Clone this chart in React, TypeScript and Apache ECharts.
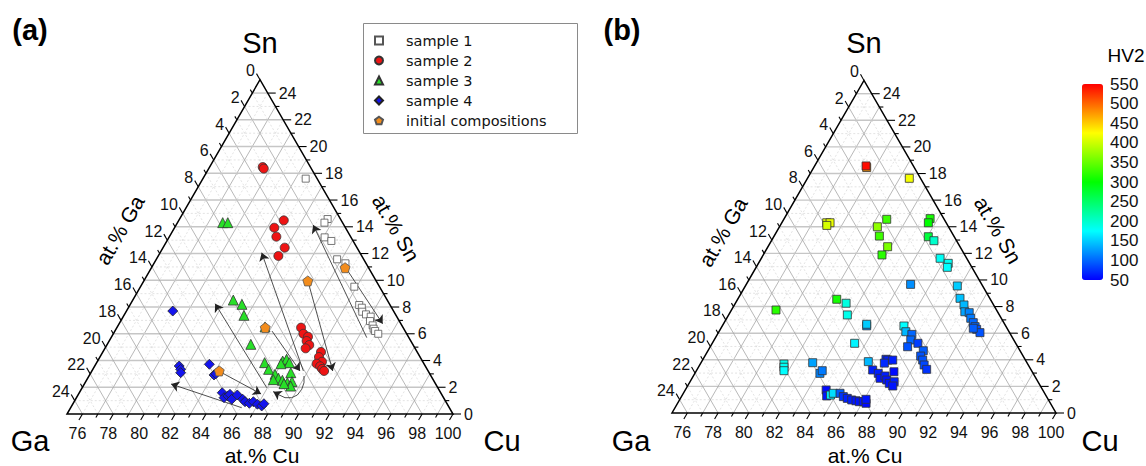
import React, { useEffect, useRef } from 'react';
import * as echarts from 'echarts';

// ---------- Panel (a): compositions [at.% Cu, at.% Sn]  (at.% Ga = 100 - Cu - Sn) ----------
const sample1: number[][] = [
  [81.66, 17.6], [84.59, 14.58], [84.52, 14.31], [85.08, 13.21], [85.65, 12.94], [86.71, 11.57],
  [87.4, 11.27], [88.85, 9.52], [89.85, 8.15], [90.12, 7.95], [90.3, 7.65], [90.64, 7.45],
  [91.03, 7.28], [91.15, 6.95], [91.48, 6.63], [91.67, 6.38], [91.85, 6.21], [92.16, 6.0],
];
const sample2: number[][] = [
  [78.44, 18.47], [78.57, 18.35], [81.8, 14.48], [81.46, 13.93], [81.93, 13.26], [82.88, 12.44],
  [82.78, 11.82], [86.93, 6.46], [87.31, 6.0], [87.72, 5.78], [87.79, 5.46], [88.11, 5.16],
  [88.0, 4.91], [89.13, 4.64], [89.19, 4.26], [89.56, 3.91], [89.29, 3.76], [89.61, 3.57],
  [89.84, 3.37], [90.04, 3.22],
];
const sample3: number[][] = [
  [77.93, 14.31], [78.26, 14.31], [81.51, 8.52], [82.23, 8.2], [82.77, 7.38], [84.57, 6.51],
  [84.3, 5.21], [85.88, 3.84], [86.99, 3.96], [87.18, 4.09], [87.48, 3.84], [86.98, 3.76],
  [86.39, 3.34], [87.95, 3.09], [86.99, 2.97], [87.36, 2.67], [87.69, 2.52], [87.08, 2.57],
  [88.1, 2.34], [88.36, 2.42], [88.44, 2.09], [87.92, 2.27],
];
const sample4: number[][] = [
  [78.0, 7.7], [80.47, 3.59], [80.69, 3.34], [80.82, 3.09], [82.36, 3.72], [83.06, 2.92],
  [83.14, 3.01], [84.26, 1.59], [84.56, 1.22], [84.74, 1.35], [84.82, 1.47], [85.12, 1.1],
  [85.32, 1.42], [85.83, 1.1], [86.07, 0.92], [86.41, 0.8], [86.61, 0.92], [86.97, 0.73],
  [87.31, 0.6], [87.37, 0.77],
];
const initialCompositions: number[][] = [[87.54, 10.94], [85.62, 9.95], [84.61, 6.46], [83.25, 3.22]];

// arrows (composition paths, arrow head at the last point)
const arrowPaths: number[][][] = [
  [[91.56, 5.71], [83.88, 14.13]],
  [[87.71, 10.82], [92.07, 6.75]],
  [[88.7, 3.22], [81.58, 12.06]],
  [[85.7, 9.85], [90.6, 3.22]],
  [[85.18, 6.2], [88.48, 3.22]],
  [[88.93, 2.84], [89.18, 2.34], [89.28, 1.85], [89.21, 1.42], [88.94, 1.22], [88.51, 1.22], [88.04, 1.42], [87.53, 1.67]],
  [[86.95, 1.97], [80.47, 8.25]],
  [[83.35, 3.15], [86.82, 1.5]],
  [[86.08, 0.47], [80.62, 2.24]],
];

// ---------- Panel (b): [at.% Cu, at.% Sn, HV2] ----------
const hvPoints: number[][] = [
  [78.45, 18.45, 480], [78.35, 18.57, 545], [81.63, 17.64, 420],
  [77.92, 14.3, 410], [78.14, 14.3, 415], [78.03, 14.1, 405],
  [81.7, 14.56, 330], [81.37, 14.0, 370], [81.85, 13.3, 330], [82.79, 12.5, 360], [82.73, 11.88, 320],
  [84.5, 14.61, 310], [84.54, 14.3, 300], [85.06, 13.25, 270], [85.58, 12.95, 200], [86.64, 11.63, 180],
  [87.36, 11.25, 180], [87.45, 10.95, 175], [85.7, 9.67, 120], [88.8, 9.55, 150], [89.44, 8.62, 145],
  [89.95, 8.12, 140], [90.26, 7.61, 130], [90.58, 7.54, 115], [90.89, 7.12, 110], [91.22, 6.79, 100],
  [91.49, 6.49, 100], [91.69, 6.29, 90], [92.03, 6.04, 90], [91.43, 6.37, 95],
  [77.9, 7.74, 320], [81.45, 8.55, 310], [82.21, 8.25, 190], [82.73, 7.37, 185],
  [84.4, 6.55, 120], [84.34, 6.67, 150], [84.27, 5.24, 170],
  [86.83, 6.54, 175], [87.17, 6.11, 140], [87.66, 5.91, 100], [87.8, 5.49, 100], [88.39, 5.24, 80],
  [87.85, 4.98, 90], [89.02, 4.68, 95], [89.05, 4.28, 90], [89.33, 3.98, 90], [89.61, 3.61, 85],
  [89.94, 3.28, 75],
  [86.91, 4.04, 70], [87.06, 3.98, 65], [86.95, 3.75, 70], [87.38, 3.98, 65], [85.85, 3.86, 140],
  [86.45, 3.23, 65], [86.94, 2.98, 65], [87.24, 2.61, 60], [87.48, 2.78, 65], [87.74, 2.48, 60],
  [88.03, 2.23, 60], [88.29, 2.35, 65], [87.9, 3.1, 55], [88.36, 2.03, 60],
  [80.45, 3.68, 185], [80.57, 3.44, 180], [80.7, 3.18, 175],
  [82.27, 3.78, 130], [83.14, 2.98, 115], [83.19, 3.18, 110],
  [84.17, 1.73, 55], [84.43, 1.28, 60], [84.65, 1.35, 170], [84.76, 1.48, 160], [85.2, 1.48, 95],
  [85.54, 1.23, 75], [85.86, 1.1, 65], [86.21, 0.98, 65], [86.52, 0.92, 60], [86.77, 0.85, 60],
  [87.03, 0.85, 60], [87.27, 0.73, 55], [87.12, 1.03, 60],
];

// ---------- axis ticks ----------
const cuTickLabels = [76, 78, 80, 82, 84, 86, 88, 90, 92, 94, 96, 98, 100];
const gaTickLabels = [0, 2, 4, 6, 8, 10, 12, 14, 16, 18, 20, 22, 24];
const snTickLabels = [0, 2, 4, 6, 8, 10, 12, 14, 16, 18, 20, 22, 24];
const hvMin = 50;
const hvMax = 550;
const hvStep = 50;
const hvColors = ['#0000ff', '#00ffff', '#00ff00', '#ffff00', '#ff0000'];

const FONT = '"Liberation Sans", Arial, sans-serif';
const toXY = (p: number[]) => [p[0] + p[1] / 2, p[1]];

const pentagon = 'path://M0,-1 L0.951,-0.309 L0.588,0.809 L-0.588,0.809 L-0.951,-0.309 Z';

function frameRenderer(_params: any, api: any) {
  const P = (cu: number, sn: number) => api.coord([cu + sn / 2, sn]);
  const children: any[] = [];
  const seg = (a: number[], b: number[], style: any) =>
    children.push({ type: 'line', shape: { x1: a[0], y1: a[1], x2: b[0], y2: b[1] }, style });
  const majorDiag = { stroke: '#a6a6a6', lineWidth: 0.8 };
  const majorHor = { stroke: '#c6c6c6', lineWidth: 1.4 };
  const minor = { stroke: '#dcdcdc', lineWidth: 0.8, lineDash: [2, 2] };
  for (let v = 1; v < 25; v++) {
    const major = v % 2 === 0;
    seg(P(75, v), P(100 - v, v), major ? majorHor : minor);
    seg(P(75 + v, 0), P(75 + v, 25 - v), major ? majorDiag : minor);
    seg(P(100 - v, 0), P(75, 25 - v), major ? majorDiag : minor);
  }
  children.push({
    type: 'polygon',
    shape: { points: [P(75, 0), P(100, 0), P(75, 25)] },
    style: { fill: 'none', stroke: '#000', lineWidth: 1.5 },
  });
  const unit = (a: number[], b: number[]) => {
    const dx = b[0] - a[0];
    const dy = b[1] - a[1];
    const l = Math.hypot(dx, dy);
    return [dx / l, dy / l];
  };
  const tickStyle = { stroke: '#000', lineWidth: 1.1 };
  const txt = (x: number, y: number, text: string, align: string) =>
    children.push({
      type: 'text',
      x,
      y,
      style: {
        text,
        font: `16px ${FONT}`,
        fill: '#111',
        textAlign: align,
        textVerticalAlign: 'middle',
        align,
        verticalAlign: 'middle',
      },
    });
  // Cu ticks (bottom edge)
  const dCu = unit(P(80, 1), P(80, 0));
  for (let c = 76; c <= 100; c++) {
    const b = P(c, 0);
    const major = cuTickLabels.indexOf(c) >= 0;
    const len = major ? 7 : 4;
    seg(b, [b[0] + dCu[0] * len, b[1] + dCu[1] * len], tickStyle);
    if (major) txt(b[0] - 5, b[1] + 19, String(c), 'center');
  }
  // Ga ticks (left edge)
  const dGa = unit(P(85, 0), P(75, 10));
  for (let g = 0; g <= 24; g++) {
    const b = P(75, 25 - g);
    const major = gaTickLabels.indexOf(g) >= 0;
    const len = major ? 7 : 4;
    seg(b, [b[0] + dGa[0] * len, b[1] + dGa[1] * len], tickStyle);
    if (major) txt(b[0] - 5, b[1] - 9, String(g), 'right');
  }
  // Sn ticks (right edge)
  for (let s = 0; s <= 24; s++) {
    const b = P(100 - s, s);
    const major = snTickLabels.indexOf(s) >= 0;
    const len = major ? 8 : 4;
    seg(b, [b[0] + len, b[1]], tickStyle);
    if (major) txt(b[0] + 11, b[1], String(s), 'left');
  }
  return { type: 'group', children };
}

function label(x: number, y: number, text: string, size: number, opts: any = {}) {
  return {
    type: 'text',
    x,
    y,
    rotation: opts.rotation || 0,
    z: 20,
    style: {
      text,
      font: `${opts.bold ? 'bold ' : ''}${size}px ${FONT}`,
      fill: '#000',
      textAlign: 'center',
      textVerticalAlign: 'middle',
      align: 'center',
      verticalAlign: 'middle',
    },
  };
}

export default function App() {
  const ref = useRef<HTMLDivElement>(null);
  useEffect(() => {
    if (!ref.current) return;
    const chart = echarts.init(ref.current, undefined, { renderer: 'svg' });
    const axisX = (gridIndex: number) => ({ gridIndex, type: 'value', min: 75, max: 100, show: false });
    const axisY = (gridIndex: number) => ({ gridIndex, type: 'value', min: 0, max: 25, show: false });
    const frame = (idx: number) => ({
      type: 'custom',
      xAxisIndex: idx,
      yAxisIndex: idx,
      data: [[75, 0]],
      encode: { x: 0, y: 1 },
      renderItem: frameRenderer,
      silent: true,
      clip: false,
      z: 1,
    });
    const scat = (name: string, data: number[][], symbol: string, size: number, color: string, border: string) => ({
      type: 'scatter',
      name,
      xAxisIndex: 0,
      yAxisIndex: 0,
      data: data.map(toXY),
      symbol,
      symbolSize: size,
      itemStyle: { color, borderColor: border, borderWidth: 0.8, opacity: 1 },
      z: 5,
      silent: true,
    });
    const arrowLine = { color: '#222', width: 0.8, opacity: 1 };
    const curved = arrowPaths.filter((p) => p.length > 2);
    const heads = arrowPaths.map((p) => p.slice(p.length - 2));
    chart.setOption({
      animation: false,
      backgroundColor: '#fff',
      grid: [
        { left: 67, top: 79.7, width: 386, height: 334.3 },
        { left: 672, top: 80.4, width: 384, height: 332.6 },
        { left: 1082, top: 84, width: 21, height: 196 },
      ],
      xAxis: [axisX(0), axisX(1), { gridIndex: 2, type: 'value', show: false, min: 0, max: 1 }],
      yAxis: [
        axisY(0),
        axisY(1),
        {
          gridIndex: 2,
          type: 'value',
          min: hvMin,
          max: hvMax,
          interval: hvStep,
          position: 'right',
          axisLine: { show: false },
          axisTick: { show: false },
          splitLine: { show: false },
          axisLabel: { fontSize: 17, fontFamily: FONT, color: '#111', margin: 7 },
        },
      ],
      legend: {
        data: ['sample 1', 'sample 2', 'sample 3', 'sample 4', 'initial compositions'],
        orient: 'vertical',
        left: 363,
        top: 23,
        padding: [10, 10, 6, 11],
        itemWidth: 8,
        itemHeight: 8,
        itemGap: 5,
        selectedMode: false,
        textStyle: { fontSize: 14.5, fontFamily: '"DejaVu Sans", sans-serif', color: '#111', padding: [0, 0, 0, 18] },
        z: 30,
      },
      visualMap: {
        type: 'continuous',
        min: hvMin,
        max: hvMax,
        dimension: 2,
        seriesIndex: 9,
        left: 1082,
        top: 84,
        padding: 0,
        itemWidth: 21,
        itemHeight: 196,
        calculable: false,
        hoverLink: false,
        inRange: { color: hvColors },
      },
      graphic: [
        {
          type: 'rect',
          shape: { x: 363.5, y: 23.5, width: 214, height: 110 },
          style: { fill: '#fff', stroke: '#8a8a8a', lineWidth: 1 },
          z: 2,
        },
        label(30, 30, '(a)', 29, { bold: true }),
        label(622, 30, '(b)', 29, { bold: true }),
        label(260, 43, 'Sn', 29),
        label(30, 441, 'Ga', 29),
        label(502, 441, 'Cu', 29),
        label(864, 43, 'Sn', 29),
        label(631, 441, 'Ga', 29),
        label(1100, 441, 'Cu', 29),
        label(262, 455, 'at.% Cu', 21),
        label(865, 455, 'at.% Cu', 21),
        label(120, 230, 'at.% Ga', 21, { rotation: Math.PI / 3 }),
        label(723, 232, 'at.% Ga', 21, { rotation: Math.PI / 3 }),
        label(396, 228, 'at.% Sn', 21, { rotation: -Math.PI / 3 }),
        label(998, 230, 'at.% Sn', 21, { rotation: -Math.PI / 3 }),
        label(1126, 55, 'HV2', 19),
      ],
      series: [
        frame(0),
        frame(1),
        {
          type: 'lines',
          coordinateSystem: 'cartesian2d',
          xAxisIndex: 0,
          yAxisIndex: 0,
          polyline: true,
          silent: true,
          z: 3,
          lineStyle: arrowLine,
          data: curved.map((p) => ({ coords: p.map(toXY) })),
        },
        {
          type: 'lines',
          coordinateSystem: 'cartesian2d',
          xAxisIndex: 0,
          yAxisIndex: 0,
          silent: true,
          z: 3,
          symbol: ['none', 'arrow'],
          symbolSize: 8,
          lineStyle: arrowLine,
          itemStyle: { color: '#222' },
          data: heads.map((p) => ({ coords: p.map(toXY) })),
        },
        scat('sample 1', sample1, 'rect', 7, '#ffffff', '#555555'),
        scat('sample 2', sample2, 'circle', 9, '#ee1414', '#333333'),
        scat('sample 3', sample3, 'triangle', 10, '#28e028', '#333333'),
        scat('sample 4', sample4, 'diamond', 10, '#1414ee', '#222222'),
        scat('initial compositions', initialCompositions, pentagon, 10, '#f28c1c', '#555555'),
        {
          type: 'scatter',
          name: 'HV2',
          xAxisIndex: 1,
          yAxisIndex: 1,
          data: hvPoints.map((p) => [p[0] + p[1] / 2, p[1], p[2]]),
          symbol: 'rect',
          symbolSize: 8,
          itemStyle: { borderColor: '#333', borderWidth: 0.8, opacity: 1 },
          z: 5,
          silent: true,
        },
      ],
    });
    return () => chart.dispose();
  }, []);
  return <div ref={ref} style={{ position: 'fixed', left: 0, top: 0, width: 1146, height: 466 }} />;
}
